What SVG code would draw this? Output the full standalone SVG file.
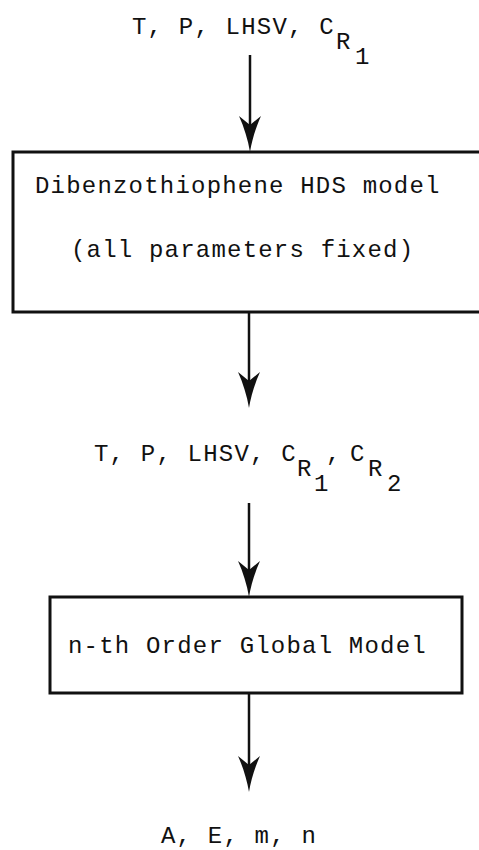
<svg xmlns="http://www.w3.org/2000/svg" width="479" height="850" viewBox="0 0 479 850">
<style>
text{font-family:"Liberation Mono","Courier New",monospace;font-size:24px;letter-spacing:1.2px;fill:#111}
.ln{stroke:#111;stroke-width:2.5;fill:none}
.box{stroke:#111;stroke-width:3;fill:#fff}
.ah{fill:#111}
</style>
<defs>
<path id="head" class="ah" d="M0,0 C-2,-12 -6,-25 -11,-36 L0,-27 L11,-36 C6,-25 2,-12 0,0 Z"/>
</defs>
<rect width="479" height="850" fill="#fff"/>
<g id="connectors">
<line class="ln" x1="250" y1="55" x2="250" y2="140"/>
<use href="#head" x="250" y="152"/>
<line class="ln" x1="249" y1="312" x2="249" y2="396"/>
<use href="#head" x="249" y="408"/>
<line class="ln" x1="249" y1="503" x2="249" y2="585"/>
<use href="#head" x="249" y="597"/>
<line class="ln" x1="249" y1="693" x2="249" y2="780"/>
<use href="#head" x="249" y="792"/>
</g>
<g id="input1">
<text x="132" y="34">T, P, LHSV, C</text>
<text x="336" y="49">R</text>
<text x="355" y="64">1</text>
</g>
<g id="box1">
<rect class="box" x="13" y="152" width="480" height="160"/>
<text x="35" y="193">Dibenzothiophene HDS model</text>
<text x="71" y="257">(all parameters fixed)</text>
</g>
<g id="input2">
<text x="94" y="461">T, P, LHSV, C</text>
<text x="297" y="476">R</text>
<text x="314" y="491">1</text>
<text x="326" y="461">,</text>
<text x="350" y="461">C</text>
<text x="368" y="476">R</text>
<text x="387" y="491">2</text>
</g>
<g id="box2">
<rect class="box" x="50" y="597" width="412" height="96"/>
<text x="68" y="653">n-th Order Global Model</text>
</g>
<g id="output">
<text x="161" y="843">A, E, m, n</text>
</g>
</svg>
